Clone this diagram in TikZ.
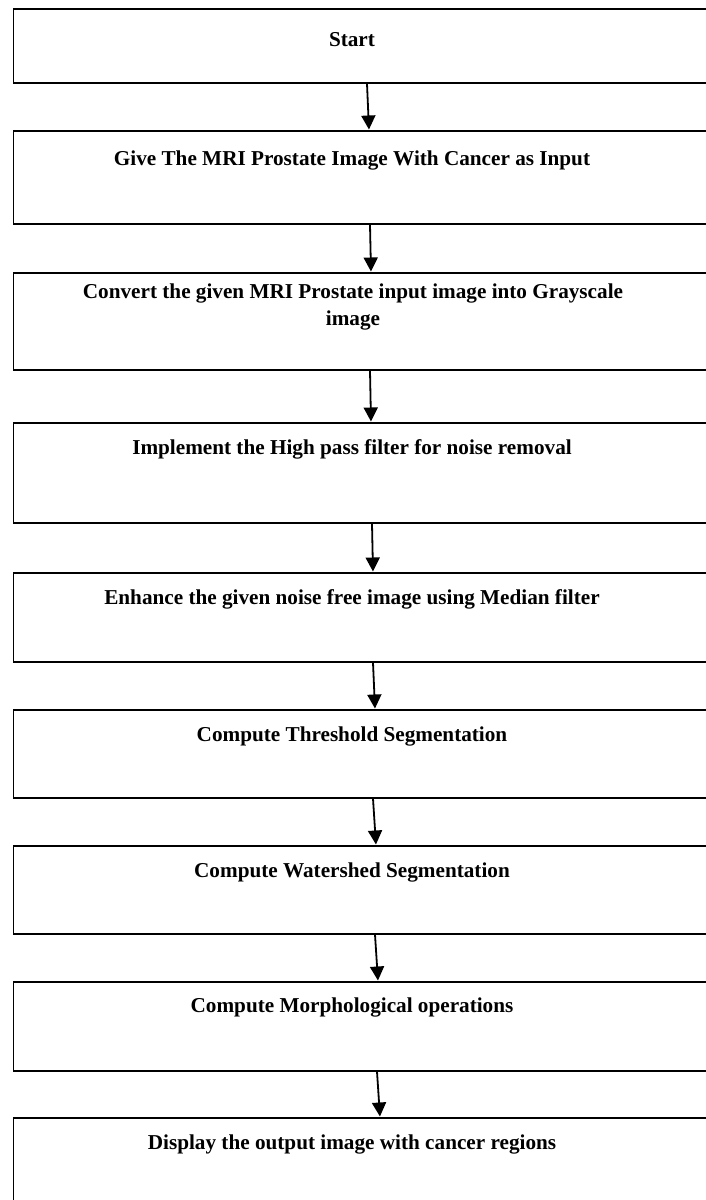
\documentclass[tikz,border=0pt]{standalone}
\usepackage{fontspec}
\setmainfont{Liberation Serif}
\usetikzlibrary{arrows.meta}

\begin{document}
\begin{tikzpicture}[x=1pt, y=-1pt,
  stepbox/.style={draw=black, line width=1.6pt, fill=none, rectangle,
    minimum width=760pt, anchor=north west, inner sep=0pt},
  steptext/.style={anchor=base, inner sep=0pt, align=center,
    font=\fontsize{21.2}{27}\selectfont\bfseries},
  flow/.style={draw=black, line width=1.8pt,
    -{Triangle[length=14pt, width=14pt]}, shorten >=0.5pt}
]
\useasboundingbox (0,0) rectangle (706,1200);
\fill[white] (0,0) rectangle (706,1200);
\clip (0,0) rectangle (706,1200);

% process boxes (they run past the right edge of the page)
\node[stepbox, minimum height=73.7pt] (b1) at (12.5,8.3) {};
\node[stepbox, minimum height=93pt]   (b2) at (12.5,130) {};
\node[stepbox, minimum height=97pt]   (b3) at (12.5,272) {};
\node[stepbox, minimum height=100pt]  (b4) at (12.5,422) {};
\node[stepbox, minimum height=89pt]   (b5) at (12.5,572) {};
\node[stepbox, minimum height=88pt]   (b6) at (12.5,709) {};
\node[stepbox, minimum height=88pt]   (b7) at (12.5,845) {};
\node[stepbox, minimum height=89pt]   (b8) at (12.5,981) {};
\node[stepbox, minimum height=120pt]  (b9) at (12.5,1117) {};

% step labels
\node[steptext] (t1) at (352,46)   {Start};
\node[steptext] (t2) at (352,165)  {Give The MRI Prostate Image With Cancer as Input};
\node[steptext] (t3) at (353,325)  {Convert the given MRI Prostate input image into Grayscale\\image};
\node[steptext] (t4) at (352,454)  {Implement the High pass filter for noise removal};
\node[steptext] (t5) at (352,604)  {Enhance the given noise free image using Median filter};
\node[steptext] (t6) at (352,741)  {Compute Threshold Segmentation};
\node[steptext] (t7) at (352,877)  {Compute Watershed Segmentation};
\node[steptext] (t8) at (352,1012) {Compute Morphological operations};
\node[steptext] (t9) at (352,1149) {Display the output image with cancer regions};

% connectors between consecutive boxes
\draw[flow] ([xshift=354.5pt]b1.south west) -- ([xshift=356.5pt]b2.north west);
\draw[flow] ([xshift=357.5pt]b2.south west) -- ([xshift=358.5pt]b3.north west);
\draw[flow] ([xshift=357.5pt]b3.south west) -- ([xshift=358.5pt]b4.north west);
\draw[flow] ([xshift=359.5pt]b4.south west) -- ([xshift=360.5pt]b5.north west);
\draw[flow] ([xshift=360.5pt]b5.south west) -- ([xshift=362.5pt]b6.north west);
\draw[flow] ([xshift=360.5pt]b6.south west) -- ([xshift=363.5pt]b7.north west);
\draw[flow] ([xshift=362.5pt]b7.south west) -- ([xshift=365.5pt]b8.north west);
\draw[flow] ([xshift=364.5pt]b8.south west) -- ([xshift=367.5pt]b9.north west);
\end{tikzpicture}
\end{document}
